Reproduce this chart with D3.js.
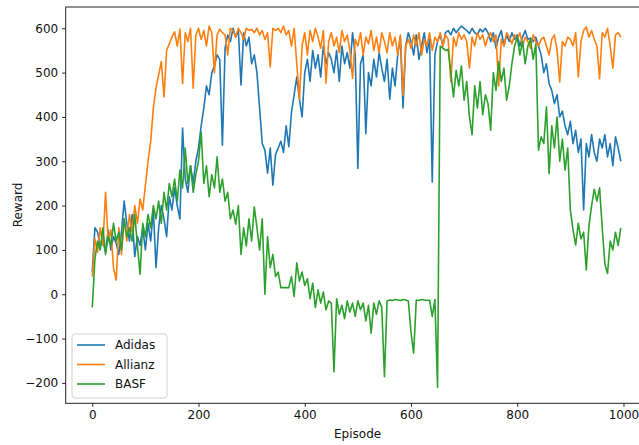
<!DOCTYPE html>
<html>
<head>
<meta charset="utf-8">
<script src="https://cdn.jsdelivr.net/npm/d3@7"></script>
<style>
  body { margin: 0; background: #fff; }
  text { font-family: "DejaVu Sans", sans-serif; }
</style>
</head>
<body>
<svg id="chart" width="639" height="445"></svg>
<script>
var STEP = 5;

var ADIDAS = [
  50, 150, 140, 110, 120, 95, 145, 100, 130, 115,
  90, 140, 210, 160, 120, 180, 85, 130, 110, 150,
  100, 160, 120, 190, 60, 150, 200, 170, 130, 220,
  190, 240, 200, 170, 375, 260, 230, 290, 250, 300,
  330, 380, 420, 470, 450, 500, 515, 540, 530, 336,
  555, 585, 570, 600, 580, 595, 472, 590, 560, 580,
  520, 540, 500, 420, 340, 325, 273, 330, 246, 315,
  330, 345, 320, 380, 333, 410, 450, 490, 440, 400,
  500, 530, 480, 550, 510, 540, 490, 560, 520, 545,
  530, 500, 550, 480, 560, 520, 545, 510, 590, 540,
  284, 520, 540, 362, 500, 470, 530, 490, 545, 510,
  480, 530, 440, 510, 470, 540, 580, 420, 560, 590,
  570, 540, 585, 530, 560, 590, 545, 575, 253, 540,
  570, 585, 560, 590, 595, 585, 600, 590, 598, 605,
  600, 595, 588, 600, 590, 585, 598, 592, 600, 590,
  570, 590, 555, 580, 595, 560, 585, 570, 590, 575,
  585, 560, 580, 595, 575, 578, 570, 580, 560, 540,
  500, 520, 475, 460, 430, 450, 400, 413, 380, 360,
  390, 340, 370, 320, 350, 190, 340, 310, 360, 320,
  300, 350, 330, 360, 310, 340, 290, 355, 330, 300
];

var ALLIANZ = [
  40, 125, 95, 150, 110, 230, 120, 145, 60, 32,
  150, 90, 170, 120, 180, 140, 200, 160, 215, 190,
  245, 300, 345, 420, 465, 495, 525, 445, 550, 565,
  580, 592, 560, 598, 475, 590, 570, 600, 465, 585,
  600, 575, 595, 560, 605, 590, 500, 585, 598, 590,
  585, 540, 600, 595, 580, 600, 590, 575, 600, 595,
  598, 590, 600, 585, 595, 575, 590, 513, 600, 595,
  600, 590, 605, 585, 595, 560, 600, 520, 440, 560,
  590, 540, 595, 570, 600, 580, 555, 595, 476, 570,
  590, 560, 580, 545, 595, 570, 585, 550, 487, 575,
  560, 590, 540, 580, 565, 595, 550, 580, 545, 590,
  570, 545, 590, 560, 580, 540, 585, 449, 560, 575,
  555, 585, 560, 590, 540, 575, 560, 590, 550, 580,
  570, 590, 560, 585, 575, 479, 580, 560, 590, 575,
  585, 570, 510, 580, 560, 590, 575, 585, 560, 580,
  590, 570, 585, 470, 575, 560, 590, 580, 565, 585,
  575, 590, 560, 580, 570, 555, 585, 570, 560, 575,
  580, 560, 540, 575, 585, 550, 479, 570, 560, 580,
  575, 560, 590, 490, 570, 595, 603, 580, 595, 575,
  560, 486, 590, 580, 600, 560, 510, 585, 590, 580
];

var BASF = [
  -30, 80, 120, 100, 150, 90, 130, 110, 160, 120,
  140, 100, 170, 130, 150, 120, 180, 110, 45, 160,
  130, 180, 150, 200, 170, 210, 160, 230, 190, 250,
  220, 260, 210, 280, 240, 330, 250, 290, 230, 270,
  300, 366, 250, 290, 220, 270, 240, 310, 230, 260,
  210, 230, 170, 190, 158, 200, 90, 150, 109, 170,
  120, 197, 150, 100, 170, 0, 130, 60, 90, 40,
  50, 15, 15, 15, 15, 40, -5, 71, 30, 50,
  20, 35, -10, 25, -30, 10, -20, 5, -35, -15,
  -20, -175, -10, -45, -25, -55, -15, -40, -20, -50,
  -15, -35, -20, -60, -25, -88, -20, -45, -15, -30,
  -186, -15, -13, -14, -12, -13, -14, -12, -13, -15,
  -85, -133, -13, -14, -12, -13, -14, -13, -50, -12,
  -210, 560, 555, 550, 552, 500, 445, 505, 470, 515,
  438, 480, 400, 360, 470, 420, 480, 405, 450, 430,
  370, 500, 460, 525, 480, 510, 438, 470, 520, 560,
  580, 540, 570, 520, 560, 575, 530, 565, 325, 355,
  340, 423, 272, 380, 330, 400, 300, 350, 280, 330,
  190, 145, 111, 160, 125, 140, 55, 155, 200, 237,
  210, 240, 150, 68, 47, 120, 100, 140, 110, 150
];

var SERIES_NAMES = ['Adidas', 'Allianz', 'BASF'];
var SERIES_COLORS = ['#1f77b4', '#ff7f0e', '#2ca02c'];
var X_TICKS = [0, 200, 400, 600, 800, 1000];
var Y_TICKS = [-200, -100, 0, 100, 200, 300, 400, 500, 600];

var svg = d3.select('#chart');

// axes box; the right spine falls just off the picture, as in the reference
var x = d3.scaleLinear().domain([-50, 1049]).range([65.7, 649.5]);
var y = d3.scaleLinear().domain([-246, 648]).range([403.3, 7]);

var line = d3.line()
  .x(function(d, i) { return x(i * STEP); })
  .y(function(d) { return y(d); });

var plot = svg.append('g');
[ADIDAS, ALLIANZ, BASF].forEach(function(values, i) {
  plot.append('path')
    .datum(values)
    .attr('d', line)
    .attr('fill', 'none')
    .attr('stroke', SERIES_COLORS[i])
    .attr('stroke-width', 1.6)
    .attr('stroke-linejoin', 'round');
});

// frame
svg.append('rect')
  .attr('x', 65.7).attr('y', 7)
  .attr('width', 649.5 - 65.7).attr('height', 403.3 - 7)
  .attr('fill', 'none').attr('stroke', '#222').attr('stroke-width', 1);

var xAxis = svg.append('g')
  .attr('transform', 'translate(0,403.3)')
  .call(d3.axisBottom(x).tickValues(X_TICKS).tickSize(3.5).tickPadding(4).tickFormat(d3.format('d')));
var yAxis = svg.append('g')
  .attr('transform', 'translate(65.7,0)')
  .call(d3.axisLeft(y).tickValues(Y_TICKS).tickSize(3.5).tickPadding(4)
    .tickFormat(function(d) { return d < 0 ? '\u2212' + Math.abs(d) : d; }));

[xAxis, yAxis].forEach(function(g) {
  g.select('.domain').remove();
  g.selectAll('.tick line').attr('stroke', '#222');
  g.selectAll('.tick text')
    .attr('fill', '#111')
    .style('font-size', '12px')
    .style('font-family', '"DejaVu Sans", sans-serif');
});

svg.append('text')
  .attr('x', 357.6).attr('y', 437.5)
  .attr('text-anchor', 'middle')
  .style('font-size', '12px')
  .attr('fill', '#111')
  .text('Episode');

svg.append('text')
  .attr('transform', 'translate(22,205) rotate(-90)')
  .attr('text-anchor', 'middle')
  .style('font-size', '12px')
  .attr('fill', '#111')
  .text('Reward');

// legend
var legend = svg.append('g').attr('transform', 'translate(72,334)');
legend.append('rect')
  .attr('width', 95).attr('height', 64)
  .attr('rx', 3)
  .attr('fill', 'rgba(255,255,255,0.8)')
  .attr('stroke', '#d0d0d0');
var rows = legend.selectAll('g.row').data(SERIES_NAMES)
  .enter().append('g')
  .classed('row', true)
  .attr('transform', function(d, i) { return 'translate(0,' + (11 + i * 19.5) + ')'; });
rows.append('line')
  .attr('x1', 5).attr('x2', 33)
  .attr('stroke', function(d, i) { return SERIES_COLORS[i]; })
  .attr('stroke-width', 1.6);
rows.append('text')
  .attr('x', 43).attr('dy', '0.35em')
  .style('font-size', '12px')
  .attr('fill', '#111')
  .text(function(d) { return d; });
</script>
</body>
</html>
